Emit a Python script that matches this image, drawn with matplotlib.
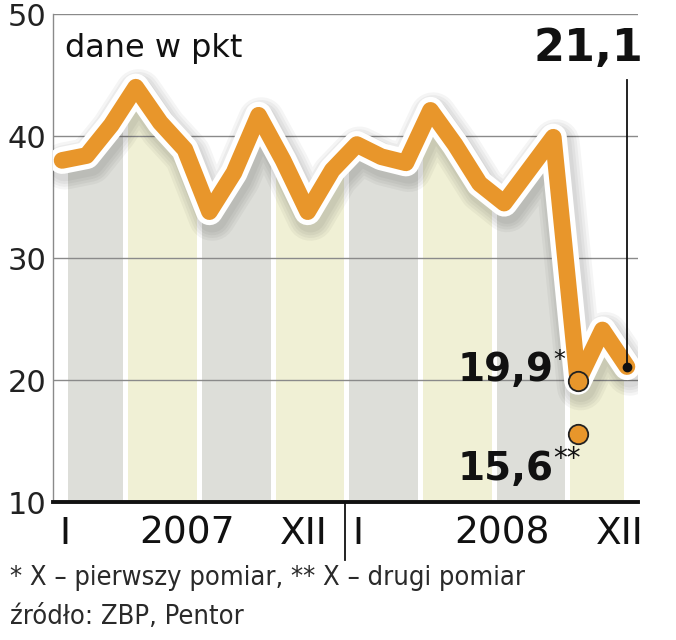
import matplotlib
matplotlib.use("Agg")
import matplotlib.pyplot as plt
import matplotlib.patheffects as pe
from matplotlib.patches import Rectangle
from matplotlib.transforms import blended_transform_factory
import numpy as np

# monthly index, I 2007 .. XII 2008
months = list(range(24))
values = [38.0, 38.4, 40.9, 44.0, 41.1, 38.9, 33.8, 37.0, 41.7, 38.0, 33.8, 37.2,
          39.3, 38.3, 37.8, 42.1, 39.3, 36.1, 34.5, 37.2, 39.9, 19.9, 24.1, 21.1]
first_measure = 19.9
second_measure = 15.6
last_value = 21.1
tick_labels = ["I", "2007", "XII", "I", "2008", "XII"]
y_ticks = [10, 20, 30, 40, 50]

ORANGE = "#E8962B"
GREY_BAND = "#DDDED9"
YELLOW_BAND = "#F0F0D5"

fig = plt.figure(figsize=(6.76, 6.40), dpi=100)
ax = fig.add_axes([53 / 676, 1 - 502 / 640, 585 / 676, 488 / 640])
ax.set_xlim(-0.37, 23.45)
ax.set_ylim(10, 50)

# quarter bands filled under the line
for q in range(8):
    x0 = max(3 * q - 0.3, 0.24)
    x1 = min(3 * q + 2.45, 22.85)
    poly = ax.fill_between(months, 10, values, color=GREY_BAND if q % 2 == 0 else YELLOW_BAND,
                           lw=0, zorder=1)
    poly.set_clip_path(Rectangle((x0, 10), x1 - x0, 40, transform=ax.transData))

# grid + spines
ax.set_yticks(y_ticks)
ax.yaxis.grid(True, color="#8a8a8a", lw=1.0, zorder=2)
ax.set_axisbelow(False)
for s in ["top", "right"]:
    ax.spines[s].set_visible(False)
ax.spines["left"].set_color("#8a8a8a")
ax.spines["left"].set_linewidth(1.0)
ax.spines["bottom"].set_color("#111111")
ax.spines["bottom"].set_linewidth(2.8)
ax.spines["bottom"].set_zorder(5)
ax.tick_params(axis="y", length=0, pad=5, labelsize=22, labelcolor="#222222")
ax.tick_params(axis="x", length=0, pad=10, labelsize=27, labelcolor="#111111")
ax.set_xticks([0.1, 5.1, 9.85, 12.05, 17.9, 22.7], tick_labels)

# line with white outline and soft shadow
shadow = [pe.SimpleLineShadow(offset=(2, -4), shadow_color="#000000", alpha=0.04,
                              linewidth=w) for w in (34, 30, 26, 22)]
ax.plot(months, values, color=ORANGE, lw=12, solid_joinstyle="round",
        solid_capstyle="round", zorder=3,
        path_effects=shadow + [pe.Stroke(linewidth=19.5, foreground="white"), pe.Normal()])

# measurement dots
ax.plot([21], [first_measure], "o", ms=14, mfc=ORANGE, mec="#222222", mew=1.3, zorder=6)
ax.plot([21], [second_measure], "o", ms=14, mfc=ORANGE, mec="#222222", mew=1.3, zorder=6)
ax.plot([23], [last_value], "o", ms=6, color="#111111", zorder=7)
ax.plot([23, 23], [last_value, 44.6], color="#111111", lw=1.3, zorder=7)

bold = dict(fontweight="bold", color="#111111", family="DejaVu Sans")
ax.text(23.65, 47.2, "21,1", fontsize=32, ha="right", va="center", **bold)
ax.text(20.0, 20.8, "19,9", fontsize=28, ha="right", va="center", **bold)
ax.text(20.0, 21.6, "*", fontsize=17, ha="left", va="center", color="#111111")
ax.text(20.0, 12.7, "15,6", fontsize=28, ha="right", va="center", **bold)
ax.text(20.0, 13.5, "**", fontsize=20, ha="left", va="center", color="#111111")

ax.text(0.02, 0.93, "dane w pkt", transform=ax.transAxes, fontsize=23,
        color="#111111", ha="left", va="center")

# year separator below axis
trans = blended_transform_factory(ax.transData, ax.transAxes)
ax.plot([11.52, 11.52], [0, -0.119], color="#111111", lw=1.3, transform=trans,
        clip_on=False)

fig.text(10 / 676, 1 - 578 / 640, "* X \u2013 pierwszy pomiar, ** X \u2013 drugi pomiar",
         fontsize=19.5, color="#2a2a2a", ha="left", va="center", fontstretch="condensed")
fig.text(10 / 676, 1 - 617 / 640, "\u017ar\u00f3d\u0142o: ZBP, Pentor",
         fontsize=19.5, color="#2a2a2a", ha="left", va="center", fontstretch="condensed")

fig.savefig("out.png", dpi=100)
